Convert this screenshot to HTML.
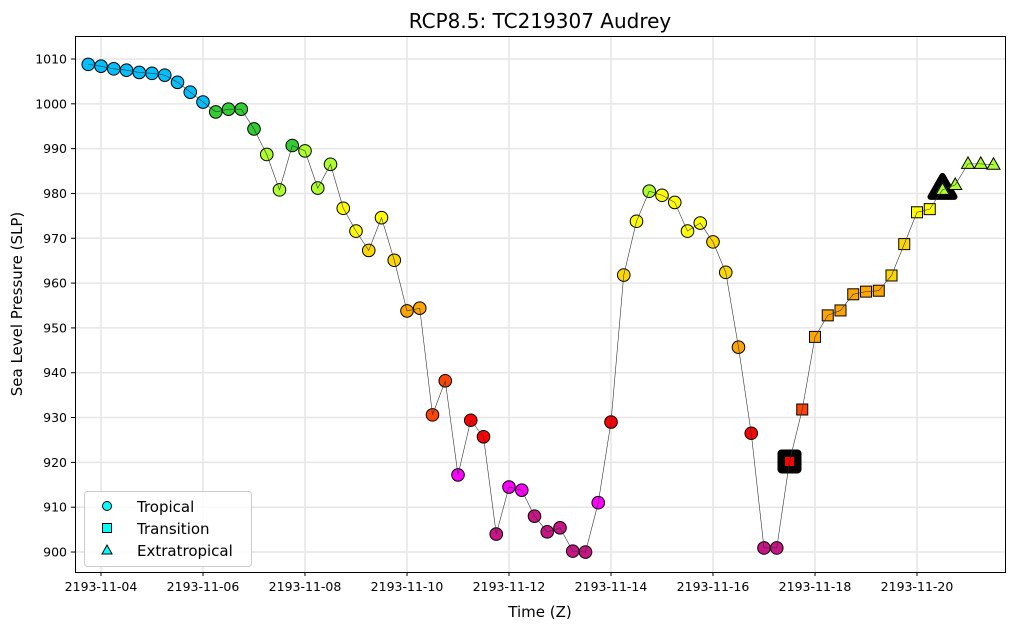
<!DOCTYPE html>
<html><head><meta charset="utf-8"><style>
body{margin:0;background:#fff;}
svg text{font-family:"DejaVu Sans","Liberation Sans",sans-serif;fill:#000;}
</style></head><body>
<svg id="chart" width="1015" height="629" viewBox="0 0 1015 629" xmlns="http://www.w3.org/2000/svg">
<rect width="1015" height="629" fill="#fff"/>
<text x="540" y="28" text-anchor="middle" font-size="20">RCP8.5: TC219307 Audrey</text>
<g id="grid"></g>
<g id="yt"></g>
<g id="xt"></g>
<g id="marks"></g>
<rect x="75.5" y="36.5" width="930" height="536" fill="none" stroke="#000" stroke-width="1"/>
<text x="540" y="617" text-anchor="middle" font-size="15">Time (Z)</text>
<text transform="translate(22,304) rotate(-90)" text-anchor="middle" font-size="15">Sea Level Pressure (SLP)</text>
<g>
<rect x="84.5" y="491.5" width="167" height="75" rx="3" fill="#fff" fill-opacity="0.8" stroke="#ccc"/>
<g><circle cx="107" cy="506" r="4.5" fill="#00ffff" stroke="#000"/><text x="137" y="512" font-size="15">Tropical</text></g>
<g><rect x="102.5" y="523.5" width="9" height="9" fill="#00ffff" stroke="#000"/><text x="137" y="534" font-size="15">Transition</text></g>
<g><polygon points="107,545 112,554 102,554" fill="#00ffff" stroke="#000"/><text x="137" y="556" font-size="15">Extratropical</text></g>
</g>
</svg>
<script>
const pressures=[1008.8,1008.4,1007.8,1007.5,1007.0,1006.8,1006.4,1004.8,1002.6,1000.4,998.2,998.8,998.8,994.4,988.7,980.8,990.7,989.5,981.2,986.5,976.7,971.6,967.3,974.6,965.1,953.8,954.4,930.6,938.2,917.2,929.4,925.7,904.0,914.5,913.8,908.0,904.5,905.4,900.2,900.0,911.0,929.0,961.8,973.8,980.5,979.6,978.0,971.6,973.4,969.2,962.4,945.7,926.5,900.9,900.9,920.2,931.8,948.0,952.8,953.9,957.5,958.1,958.3,961.7,968.7,975.8,976.5,980.8,981.9,986.6,986.6,986.4];
const colors=["c","c","c","c","c","c","c","c","c","c","g","g","g","g","yg","yg","g","yg","yg","yg","y","y","go","y","go","o","o","or","or","m","r","r","p","m","m","p","p","p","p","p","m","r","go","y","yg","y","y","y","y","go","go","o","r","p","p","r","or","o","o","o","o","o","o","go","go","y","y","yg","yg","yg","yg","yg"];
const types=["T","T","T","T","T","T","T","T","T","T","T","T","T","T","T","T","T","T","T","T","T","T","T","T","T","T","T","T","T","T","T","T","T","T","T","T","T","T","T","T","T","T","T","T","T","T","T","T","T","T","T","T","T","T","T","S","S","S","S","S","S","S","S","S","S","S","S","E","E","E","E","E"];
const highlights=[55,67];
const startDay=-0.25; const stepDays=0.25;
const yTicks=[900,910,920,930,940,950,960,970,980,990,1000,1010];
const xTickDays=[0,2,4,6,8,10,12,14,16];
const xTickLabels=["2193-11-04","2193-11-06","2193-11-08","2193-11-10","2193-11-12","2193-11-14","2193-11-16","2193-11-18","2193-11-20"];
const palette={c:"#00bfff",g:"#32cd32",yg:"#adff2f",y:"#ffff00",go:"#ffd700",o:"#ffa500",or:"#ff4500",r:"#ff0000",m:"#ff00ff",p:"#c71585"};
const NS="http://www.w3.org/2000/svg";
function X(d){return 101+d*51;}
function Y(v){return 59+(1010-v)*4.482;}
function mk(tag,at,parent){const e=document.createElementNS(NS,tag);for(const k in at)e.setAttribute(k,at[k]);parent.appendChild(e);return e;}
const grid=document.getElementById('grid'),yt=document.getElementById('yt'),xt=document.getElementById('xt'),marks=document.getElementById('marks');
yTicks.forEach(v=>{const y=Y(v);
const g=mk('line',{x1:75,x2:1005,y1:y,y2:y,stroke:"#e6e6e6","stroke-width":1.5},grid);


mk('line',{x1:71,x2:75,y1:y,y2:y,stroke:"#000"},yt);
const t=mk('text',{x:67,y:y+4.5,"text-anchor":"end","font-size":12.5},yt);t.textContent=v;

});
xTickDays.forEach((d,i)=>{const x=X(d);
const g=mk('line',{x1:x,x2:x,y1:36,y2:572,stroke:"#e6e6e6","stroke-width":1.5},grid);


mk('line',{x1:x,x2:x,y1:572,y2:576,stroke:"#000"},xt);
const t=mk('text',{x:x,y:591,"text-anchor":"middle","font-size":12.5},xt);t.textContent=xTickLabels[i];

});
const px=pressures.map((v,i)=>X(startDay+i*stepDays)),py=pressures.map(Y);
highlights.forEach(i=>{const x=px[i],y=py[i];let e;
if(types[i]==="S"){e=mk('rect',{x:x-11,y:y-11,width:22,height:22,rx:3,fill:"#000",stroke:"#000","stroke-width":2},marks);}
else{e=mk('polygon',{points:`${x},${y-14} ${x+12},${y+7} ${x-12},${y+7}`,fill:"none",stroke:"#000","stroke-width":6,"stroke-linejoin":"round"},marks);}

});
pressures.forEach((v,i)=>{const x=px[i],y=py[i],f=palette[colors[i]];let e;
if(types[i]==="T"){e=mk('circle',{cx:x,cy:y,r:6.3,fill:f,stroke:"#000","stroke-width":1},marks);}
else if(types[i]==="S"){const s=highlights.includes(i)?10:11;e=mk('rect',{x:x-s/2,y:y-s/2,width:s,height:s,fill:f,stroke:"#000","stroke-width":1},marks);}
else{e=mk('polygon',{points:`${x},${y-7} ${x+6.5},${y+4.5} ${x-6.5},${y+4.5}`,fill:f,stroke:"#000","stroke-width":1},marks);}

});
const ln=mk('polyline',{points:px.map((x,i)=>x+","+py[i]).join(" "),fill:"none",stroke:"#333","stroke-width":0.6},marks);


</script>
</body></html>
